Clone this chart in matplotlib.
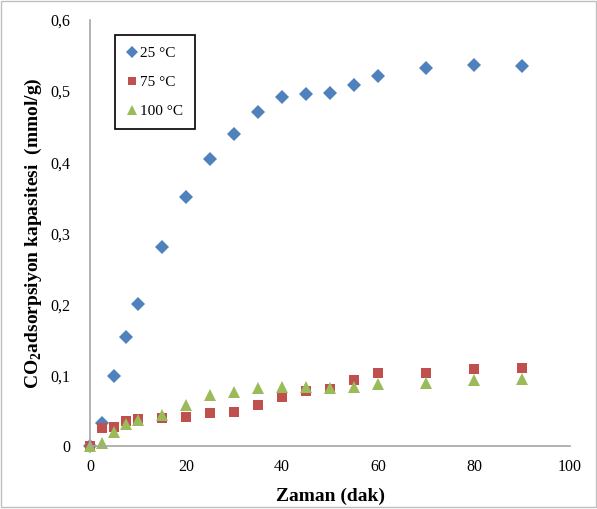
import matplotlib
matplotlib.use('Agg')
import matplotlib.pyplot as plt
from matplotlib.patches import Rectangle
from matplotlib.ticker import FuncFormatter

plt.rcParams['font.family'] = ['Liberation Serif', 'DejaVu Serif']
plt.rcParams['mathtext.fontset'] = 'custom'
plt.rcParams['mathtext.rm'] = 'Liberation Serif'
plt.rcParams['mathtext.bf'] = 'Liberation Serif:bold'

# zaman (dak)
time_min = [0, 2.5, 5, 7.5, 10, 15, 20, 25, 30, 35, 40, 45, 50, 55, 60, 70, 80, 90]

# CO2 adsorpsiyon kapasitesi (mmol/g)
cap_25 = [0.0, 0.033, 0.099, 0.154, 0.201, 0.280, 0.351, 0.404, 0.439, 0.471,
          0.492, 0.496, 0.498, 0.508, 0.521, 0.533, 0.537, 0.535]
cap_75 = [0.0, 0.026, 0.028, 0.036, 0.038, 0.040, 0.041, 0.047, 0.049, 0.058,
          0.070, 0.078, 0.081, 0.094, 0.104, 0.104, 0.109, 0.110]
cap_100 = [0.0, 0.005, 0.021, 0.031, 0.037, 0.044, 0.058, 0.072, 0.076, 0.082,
           0.083, 0.083, 0.082, 0.084, 0.088, 0.090, 0.094, 0.095]

labels = ['25 °C', '75 °C', '100 °C']
colors = ['#4F81BD', '#C0504D', '#9BBB59']

fig = plt.figure(figsize=(5.97, 5.09), dpi=100)
ax = fig.add_axes([0.1508, 0.1228, 0.804, 0.8379])

ax.plot(time_min, cap_25, 'D', color=colors[0], ms=7, mew=0, label=labels[0])
ax.plot(time_min, cap_75, 's', color=colors[1], ms=7.5, mew=0, label=labels[1])
ax.plot(time_min, cap_100, '^', color=colors[2], ms=9, mew=0, label=labels[2])

ax.set_xlim(0, 100)
ax.set_ylim(0, 0.6)
ax.set_xticks([0, 20, 40, 60, 80, 100])
ax.set_yticks([0, 0.1, 0.2, 0.3, 0.4, 0.5, 0.6])
ax.yaxis.set_major_formatter(FuncFormatter(lambda v, p: '0' if v == 0 else ('%.1f' % v).replace('.', ',')))
ax.tick_params(axis='both', length=0, labelsize=11.5)
ax.tick_params(axis='y', pad=14)
ax.tick_params(axis='x', pad=9)

for s in ['top', 'right']:
    ax.spines[s].set_visible(False)
for s in ['left', 'bottom']:
    ax.spines[s].set_color('#A6A6A6')
    ax.spines[s].set_linewidth(1.2)
for p in ax.lines:
    p.set_clip_on(False)

ax.set_xlabel('Zaman (dak)', fontsize=14, fontweight='bold', labelpad=9)
ax.set_ylabel(r'CO$_\mathbf{2}$adsorpsiyon kapasitesi  (mmol/g)', fontsize=14,
              fontweight='bold', labelpad=5)

leg = ax.legend(loc='upper left', bbox_to_anchor=(0.052, 0.965), borderaxespad=0,
                fancybox=False, edgecolor='black', fontsize=11, labelspacing=1.0,
                handlelength=0.7, handletextpad=0.2, borderpad=0.75, framealpha=1,
                markerscale=0.85)
leg.get_frame().set_linewidth(1.2)

fig.patches.append(Rectangle((0.002, 0.004), 0.996, 0.994, transform=fig.transFigure,
                             fill=False, edgecolor='#BFBFBF', linewidth=1))

fig.savefig('out.png', dpi=100)
